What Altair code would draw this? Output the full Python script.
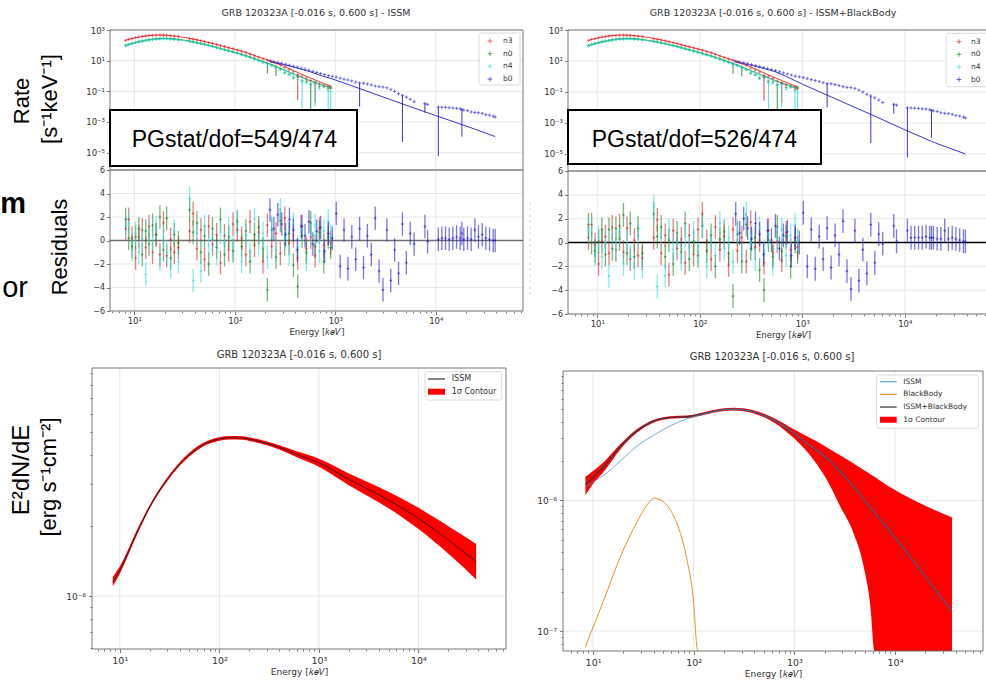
import altair as alt
import pandas as pd

# ---------------- data ----------------
DETS = ["n3", "n0", "n4", "b0"]
DET_COLORS = ["#e4262a", "#1c8a1c", "#2fe0e0", "#1f1fd0"]

NAI_E = [8.2, 8.8, 9.5, 10.3, 11.1, 12, 13, 14, 15.2, 16.5,
         18, 19.5, 21, 23, 25, 27.5, 35.5, 38.5, 42, 46,
         50, 55, 60, 66, 72, 79, 87, 96, 106, 117,
         129, 142, 157, 173, 191, 211, 233, 257, 284, 314,
         347, 383, 423, 467, 516, 570, 630, 696, 769, 850,
         900]
N3_RATE = [210, 245, 280, 320, 350, 385, 410, 440, 455, 470,
           468, 462, 450, 430, 400, 372, 280, 255, 228, 200,
           178, 152, 132, 112, 96, 82, 70, 60, 50, 41,
           34, 27, 21, 17, 13.5, 11, 9.0, 7.0, 5.2, 3.5,
           2.6, 1.9, 1.2, 1.0, 0.75, 0.5, 0.35, 0.3, 0.2, 0.22,
           0.16]
N0_RATE = [100, 118, 135, 155, 175, 195, 215, 235, 250, 265,
           275, 285, 282, 270, 255, 238, 185, 168, 150, 132,
           117, 100, 86, 73, 62, 53, 44, 37, 31, 26,
           21, 17, 13.5, 10.5, 8.3, 6.6, 5.2, 3.9, 2.8, 1.6,
           1.3, 0.75, 0.9, 0.5, 0.45, 0.3, 0.4, 0.2, 0.25, 0.15,
           0.2]
N4_RATE = [90, 110, 128, 148, 168, 188, 208, 225, 240, 255,
           262, 268, 265, 255, 242, 225, 178, 160, 143, 126,
           111, 96, 82, 70, 60, 50, 42, 35, 29, 24,
           19.5, 16, 12.5, 9.8, 7.8, 6.0, 4.7, 3.5, 2.6, 1.8,
           1.2, 0.9, 0.6, 0.4, 0.35, 0.25, 0.3, 0.15, 0.2, 0.12,
           0.1]
BGO_E = [224, 245, 268, 293, 320, 350, 383, 419, 458, 500,
         547, 598, 654, 715, 782, 855, 935, 1022, 1118, 1222,
         1336, 1461, 1597, 1746, 1909, 2087, 2282, 2495, 2728, 2983,
         3261, 3565, 3898, 4262, 4660, 5095, 5570, 6090, 7800, 8300,
         10600, 11500, 12500, 13600, 14800, 16100, 17500, 18200, 19000, 20700,
         22500, 24500, 26600, 29000, 31500, 34300, 37300, 39000]
B0_RATE = [9.5, 8.5, 7.6, 6.6, 5.8, 5.0, 4.3, 3.8, 3.2, 2.8,
           2.4, 2.0, 1.7, 1.45, 1.25, 1.05, 0.95, 0.85, 0.72, 0.62,
           0.55, 0.48, 0.40, 0.35, 0.34, 0.30, 0.26, 0.22, 0.20, 0.19,
           0.17, 0.13, 0.10, 0.07, 0.055, 0.042, 0.03, 0.021, 0.016, 0.014,
           0.0095, 0.0092, 0.009, 0.0085, 0.0082, 0.0078, 0.0072, 0.0065, 0.006, 0.0055,
           0.0045, 0.0042, 0.004, 0.0036, 0.003, 0.0028, 0.0024, 0.0021]

# fitted count-rate models
NAI_MODEL_E = [8.2, 9, 10, 11, 12.5, 14, 16, 18, 20, 23,
               27.5, 35, 42, 50, 60, 72, 87, 106, 129, 157,
               191, 233, 284, 347, 423, 516, 630, 769, 900]
N3_MODEL = [215, 255, 300, 340, 395, 435, 462, 470, 462, 435,
            380, 290, 228, 176, 134, 97, 70, 50, 34, 21.5,
            13.8, 9.0, 5.4, 3.1, 1.7, 0.95, 0.55, 0.32, 0.22]
N0_MODEL = [98, 120, 145, 170, 200, 232, 260, 278, 283, 272,
            245, 192, 150, 117, 87, 63, 45, 31.5, 21.5, 14,
            8.8, 5.5, 3.2, 1.85, 1.05, 0.62, 0.38, 0.24, 0.17]
N4_MODEL = [92, 112, 137, 160, 190, 220, 245, 262, 266, 255,
            228, 180, 143, 111, 82, 60, 42.5, 29.5, 20, 13,
            8.2, 5.1, 3.0, 1.75, 1.0, 0.6, 0.36, 0.23, 0.16]
BGO_MODEL_E = [224, 300, 400, 550, 700, 1000, 2000, 5000, 10000, 20000, 39000]
B0_MODEL_ISSM = [8.5, 5.8, 3.6, 2.0, 1.15, 0.55, 0.11, 0.0128, 0.0026, 5.5e-4, 1.12e-4]
B0_MODEL_ISSMBB = [8.5, 5.8, 3.6, 2.0, 1.0, 0.32, 0.042, 0.0029, 3.6e-4, 5e-5, 1e-5]

# long downward error bars in the count panels
DOWN_DET = ["n3", "n3", "n4", "n4", "n4", "n4", "n0", "n0", "n0", "b0", "b0", "b0", "b0", "b0"]
DOWN_E = [423, 630, 467, 630, 850, 900, 570, 211, 257, 1746, 4660, 10600, 18200, 7800]
DOWN_V = [1.2, 0.35, 0.4, 0.3, 0.12, 0.1, 0.3, 6.6, 3.9, 0.35, 0.055, 0.0095, 0.0065, 0.016]
DOWN_LO = [0.027, 0.02, 0.008, 0.01, 0.006, 0.004, 0.0048, 1.5, 1.0, 0.01, 5e-5, 6e-6, 1.1e-4, 0.004]

# residuals (sigma) - ISSM fit
N3_RES_L = [1.0, 1.8, 0.2, -1.5, 0.3, 0.9, -0.6, 1.2, -1.0, 0.5,
            -1.2, 1.5, -1.3, 0.1, -1.0, -0.6, 0.8, 2.3, -0.7, 0.9,
            -1.6, 1.2, -0.3, 0.5, -1.9, 0.4, -0.8, 1.4, 0.9, 0.2,
            -1.2, 1.6, -0.4, 0.7, -1.8, 1.3, -0.5, 0.6, -1.1, 1.9,
            -0.2, 0.4, -1.5, 1.2, -0.7, 0.3, -1.3, 1.0, -0.4, 0.6,
            -0.2]
N0_RES_L = [1.8, 0.2, -0.5, 0.3, 1.0, -1.2, 0.8, -0.3, 1.3, 0.5,
            2.0, -0.8, 1.9, -1.5, 0.5, -0.2, 2.6, 0.7, 1.5, -1.0,
            0.4, -2.0, 1.0, -0.6, 1.8, -1.2, 0.3, -0.9, 1.6, -0.5,
            0.8, -1.8, 0.5, 1.1, -0.7, -4.2, 0.9, -1.4, 1.7, -0.3,
            0.6, -2.1, -3.9, 0.4, -1.0, 1.5, -0.5, 0.7, -1.8, 0.3,
            -0.6]
N4_RES_L = [1.2, 1.5, -0.8, 0.6, -1.0, 0.2, -2.9, 0.9, -0.4, 1.1,
            -1.6, 0.3, -1.0, -2.2, 0.8, -1.8, 3.6, -3.4, 0.6, -2.6,
            1.2, -0.4, 0.1, -1.1, 0.7, -0.2, 1.0, -0.6, 1.5, -1.8,
            0.4, -0.9, 1.8, -0.3, 0.6, -1.4, 1.1, -0.8, 2.6, 0.2,
            -1.2, 1.4, -0.5, 0.9, -1.6, 0.5, 1.3, -0.9, 0.8, 1.7,
            0.4]
B0_RES_L = [2.6, 1.0, 2.2, 1.4, 0.5, 1.8, 0.9, -0.8, 1.2, 0.4,
            1.6, -0.3, 0.8, 1.1, -0.9, 0.6, 0.2, 2.3, -2.2, 0.9,
            -2.4, 0.3, -1.6, 1.0, -2.3, 0.4, -1.2, 1.9, -2.6, -4.2,
            0.9, -3.4, -0.8, -2.8, 1.4, -1.9, 0.6, -0.3, 1.2, -0.1,
            0.1, 0.2, 0.2, 0.1, 0.2, 0.3, 0.2, 0.6, 0.1, 0.2,
            0.1, 0.9, 0.3, 0.5, 0.2, 0.1, 0.0, 0.0]
# residuals (sigma) - ISSM+BlackBody fit
N3_RES_R = [0.4, 1.5, -0.2, -1.8, 0.1, 0.5, -0.9, 1.3, -0.6, 1.4,
            -0.8, 1.2, -1.4, 0.2, -1.1, -1.3, 0.4, 1.9, -0.9, 0.6,
            -2.7, 1.0, -0.5, 0.3, -1.7, 0.6, -1.0, 1.1, 2.4, 0.1,
            -1.4, 1.3, -0.6, 0.5, -1.9, 1.1, -0.7, 0.4, -1.6, 1.7,
            -0.4, 0.2, -1.7, 1.0, -0.9, 0.1, -1.5, 0.8, -0.6, 0.4,
            -0.4]
N0_RES_R = [1.5, 0.0, -0.7, 0.1, 1.1, -1.0, 1.1, -0.5, 1.2, 0.3,
            2.3, -0.9, 1.6, -1.2, 1.2, -0.9, 2.4, 0.5, 1.3, -1.2,
            0.2, -1.8, 0.8, -0.8, 1.6, -1.4, 0.1, -1.1, 1.4, -0.7,
            0.6, -2.0, 0.3, 0.9, -0.9, -4.5, 0.7, -1.6, 1.5, -0.5,
            0.4, -2.3, -4.0, 0.2, -1.2, 1.3, -0.7, 0.5, -2.0, 0.1,
            -0.8]
N4_RES_R = [1.0, 1.2, -1.0, 0.4, -1.2, 0.0, -2.8, 0.7, -0.6, 0.9,
            -1.8, 0.1, -1.2, -2.1, 0.6, -2.0, 3.0, -3.7, 0.4, -2.8,
            1.0, -0.6, -0.1, -1.3, 0.5, -0.4, 0.8, -0.8, 1.3, -2.0,
            0.2, -1.1, 1.6, -0.5, 0.4, -1.6, 0.9, -1.0, 2.4, 0.0,
            -1.4, 1.2, -0.7, 0.7, -1.8, 0.3, 1.1, -1.1, 0.6, 1.5,
            0.2]
B0_RES_R = [2.4, 0.8, 2.0, 1.2, 0.3, 1.6, 0.7, -1.0, 1.0, 0.2,
            1.4, -0.5, 0.6, 0.9, -1.1, 0.4, 0.0, 2.5, -2.0, 1.1,
            -2.2, 0.5, -1.4, 1.2, -2.1, 0.6, -1.0, 1.8, -2.4, -3.9,
            1.0, -3.2, -0.6, -2.6, 1.5, -1.7, 0.7, -0.1, 1.4, 0.1,
            1.0, 0.4, 0.4, 0.4, 0.4, 0.5, 0.4, 0.4, 0.4, 0.3,
            0.3, 1.0, 0.3, 0.4, 0.3, 0.2, 0.1, 0.1]

# nuFnu spectra, bottom-left (ISSM)
BL_E = [8.5, 10, 15, 20, 30, 40, 60, 80, 100, 130, 170,
        220, 300, 400, 600, 1000, 2000, 5000, 10000, 20000, 38000]
BL_ISSM = [1.152e-6, 1.291e-6, 1.883e-6, 2.409e-6, 3.152e-6, 3.665e-6, 4.277e-6, 4.565e-6, 4.688e-6, 4.749e-6,
           4.734e-6, 4.642e-6, 4.491e-6, 4.318e-6, 4.031e-6, 3.713e-6, 3.152e-6, 2.572e-6, 2.147e-6, 1.735e-6,
           1.402e-6]
BL_HI = [1.204e-6, 1.336e-6, 1.930e-6, 2.452e-6, 3.209e-6, 3.731e-6, 4.354e-6, 4.647e-6, 4.772e-6, 4.834e-6,
         4.819e-6, 4.726e-6, 4.572e-6, 4.413e-6, 4.152e-6, 3.862e-6, 3.341e-6, 2.791e-6, 2.383e-6, 1.987e-6,
         1.668e-6]
BL_LO = [1.102e-6, 1.247e-6, 1.837e-6, 2.366e-6, 3.096e-6, 3.600e-6, 4.201e-6, 4.484e-6, 4.605e-6, 4.665e-6,
         4.650e-6, 4.560e-6, 4.412e-6, 4.225e-6, 3.914e-6, 3.570e-6, 2.974e-6, 2.370e-6, 1.934e-6, 1.515e-6,
         1.178e-6]

# nuFnu spectra, bottom-right (ISSM + BlackBody)
BR_E = [8.4, 10, 12.8, 18.7, 27.4, 40.1, 58.7, 85.9, 126, 184,
        250, 394, 623, 1000, 1556, 2113, 2865, 3883, 4887, 5690,
        6240, 7000, 10000, 17860, 36800]
BR_TOTAL = [1.33e-6, 1.50e-6, 1.81e-6, 2.58e-6, 3.41e-6, 4.05e-6, 4.32e-6, 4.37e-6, 4.63e-6, 4.91e-6,
            5.0e-6, 4.77e-6, 4.12e-6, 3.26e-6, 2.5e-6, 2.1e-6, 1.66e-6, 1.27e-6, 1.02e-6, 8.84e-7,
            8.1e-7, 7.3e-7, 5.21e-7, 2.93e-7, 1.41e-7]
BR_ISSM = [1.27e-6, 1.38e-6, 1.56e-6, 2.01e-6, 2.61e-6, 3.16e-6, 3.73e-6, 4.22e-6, 4.58e-6, 4.90e-6,
           5.0e-6, 4.77e-6, 4.12e-6, 3.26e-6, 2.5e-6, 2.1e-6, 1.66e-6, 1.27e-6, 1.02e-6, 8.84e-7,
           8.1e-7, 7.3e-7, 5.21e-7, 2.93e-7, 1.41e-7]
BR_HI = [1.52e-6, 1.68e-6, 1.97e-6, 2.70e-6, 3.52e-6, 4.15e-6, 4.42e-6, 4.47e-6, 4.74e-6, 5.03e-6,
         5.12e-6, 4.90e-6, 4.28e-6, 3.49e-6, 2.91e-6, 2.545e-6, 2.21e-6, 1.92e-6, 1.71e-6, 1.59e-6,
         1.52e-6, 1.43e-6, 1.2e-6, 9.48e-7, 7.41e-7]
BR_LO = [1.10e-6, 1.34e-6, 1.66e-6, 2.47e-6, 3.31e-6, 3.95e-6, 4.22e-6, 4.27e-6, 4.52e-6, 4.79e-6,
         4.88e-6, 4.64e-6, 3.96e-6, 2.98e-6, 2.04e-6, 1.43e-6, 8.95e-7, 5.59e-7, 3.1e-7, 1.54e-7,
         7e-8, 1e-8, 1e-8, 1e-8, 1e-8]
BB_E = [8.4, 12.8, 18.7, 27.4, 34.3, 40.1, 46.7, 58.7, 73.8, 85.9, 100, 108, 111]
BB_FLUX = [7.6e-8, 1.73e-7, 3.71e-7, 6.87e-7, 9.2e-7, 1.04e-6, 1.01e-6, 8.43e-7, 5.59e-7, 3.49e-7, 1.63e-7, 7.4e-8, 5e-8]

# axis tick values
X_MAJOR = [10, 100, 1000, 10000]
X_MINOR = [6, 7, 8, 9, 20, 30, 40, 50, 60, 70, 80, 90, 200, 300, 400, 500, 600, 700, 800, 900,
           2000, 3000, 4000, 5000, 6000, 7000, 8000, 9000, 20000, 30000, 40000, 50000, 60000, 70000]
RATE_TICKS = [1e3, 1e1, 1e-1, 1e-3, 1e-5]
RES_TICKS = [-6, -4, -2, 0, 2, 4, 6]

# ---------------- tables ----------------
ONE = pd.DataFrame({"k": [0]})


def det_table(e, v, det, col):
    return pd.DataFrame({"E": e, col: v, "det": det})


rate_df = pd.concat([det_table(NAI_E, N3_RATE, "n3", "rate"), det_table(NAI_E, N0_RATE, "n0", "rate"),
                     det_table(NAI_E, N4_RATE, "n4", "rate"), det_table(BGO_E, B0_RATE, "b0", "rate")])
down_df = pd.DataFrame({"E": DOWN_E, "v": DOWN_V, "lo": DOWN_LO, "det": DOWN_DET})


def model_df(bgo_model):
    return pd.concat([det_table(NAI_MODEL_E, N3_MODEL, "n3", "rate"), det_table(NAI_MODEL_E, N0_MODEL, "n0", "rate"),
                      det_table(NAI_MODEL_E, N4_MODEL, "n4", "rate"), det_table(BGO_MODEL_E, bgo_model, "b0", "rate")])


def res_df(r3, r0, r4, rb):
    return pd.concat([det_table(NAI_E, r3, "n3", "r"), det_table(NAI_E, r0, "n0", "r"),
                      det_table(NAI_E, r4, "n4", "r"), det_table(BGO_E, rb, "b0", "r")])


# ---------------- helpers ----------------
W, H = 986, 682
SUP = str.maketrans("-0123456789", "\u207b\u2070\u00b9\u00b2\u00b3\u2074\u2075\u2076\u2077\u2078\u2079")
PLUS = "M-1,0L1,0M0,-1L0,1"
FONT = "DejaVu Sans"
SLIDE_FONT = "Liberation Sans"
ENERGY_TITLE = "Energy [\U0001d458\U0001d452\U0001d449]"
GRID = "#e2e2e2"
SPINE = "#6a6a6a"
COLOR = alt.Color("det:N", scale=alt.Scale(domain=DETS, range=DET_COLORS), legend=None)


def pow_expr(exps):
    s = ""
    for e in exps:
        s += "abs(log(datum.value)/LN10 - (%d)) < 0.01 ? '10%s' : " % (e, str(e).translate(SUP))
    return s + "''"


def axis(**kw):
    base = dict(labelFont=FONT, labelColor="#333", tickColor="#555", tickWidth=0.8, tickSize=3.5,
                domain=False, grid=False, titleFont=FONT, titleFontWeight="normal", titleColor="#333",
                labelPadding=2, title=None)
    base.update(kw)
    return alt.Axis(**base)


def logscale(dom, rng):
    return alt.Scale(type="log", domain=dom, range=rng, nice=False, clamp=True)


def txt(x, y, s, size, font=SLIDE_FONT, angle=0, align="center", baseline="middle", weight="normal",
        color="black"):
    return alt.Chart(ONE).mark_text(text=s, fontSize=size, font=font, angle=angle, align=align,
                                    baseline=baseline, fontWeight=weight, color=color).encode(
        x=alt.value(x), y=alt.value(y))


def rect(x1, x2, y1, y2, **kw):
    return alt.Chart(ONE).mark_rect(**kw).encode(x=alt.value(x1), x2=alt.value(x2),
                                                 y=alt.value(y1), y2=alt.value(y2))


def frame(x1, x2, y1, y2):
    return rect(x1, x2, y1, y2, fill="white", fillOpacity=0, stroke=SPINE, strokeWidth=0.9)


def hline(x1, x2, y, **kw):
    return alt.Chart(ONE).mark_rule(**kw).encode(x=alt.value(x1), x2=alt.value(x2), y=alt.value(y))


def xgrid(ticks, xs, y1, y2, ax=None):
    return alt.Chart(pd.DataFrame({"t": ticks})).mark_rule(color=GRID, strokeWidth=0.8).encode(
        x=alt.X("t:Q", scale=xs, axis=ax), y=alt.value(y1), y2=alt.value(y2))


def ygrid(ticks, ys, x1, x2, ax=None):
    return alt.Chart(pd.DataFrame({"t": ticks})).mark_rule(color=GRID, strokeWidth=0.8).encode(
        y=alt.Y("t:Q", scale=ys, axis=ax), x=alt.value(x1), x2=alt.value(x2))


def xminor(xs, ax):
    return alt.Chart(pd.DataFrame({"t": X_MINOR})).mark_rule(opacity=0).encode(x=alt.X("t:Q", scale=xs, axis=ax))


def yminor(ticks, ys, ax):
    return alt.Chart(pd.DataFrame({"t": ticks})).mark_rule(opacity=0).encode(y=alt.Y("t:Q", scale=ys, axis=ax))


def legend(box, entries, sym_x, text_x, y0, dy, size):
    layers = [rect(box[0], box[1], box[2], box[3], fill="white", fillOpacity=0.85, stroke="#d0d0d0",
                   strokeWidth=0.8, cornerRadius=2)]
    for i, (label, kind, color) in enumerate(entries):
        y = y0 + i * dy
        if kind == "plus":
            layers.append(alt.Chart(ONE).mark_point(shape=PLUS, filled=False, size=22, strokeWidth=1,
                                                    color=color).encode(x=alt.value((sym_x[0] + sym_x[1]) / 2),
                                                                        y=alt.value(y)))
        elif kind == "line":
            layers.append(hline(sym_x[0], sym_x[1], y, color=color, strokeWidth=1.2))
        else:
            layers.append(rect(sym_x[0], sym_x[1], y - 3, y + 3, color=color))
        layers.append(txt(text_x, y, label, size, font=FONT, align="left", color="#333"))
    return layers


# ---------------- top panels ----------------
def rate_panel(x0, x1, y0, y1, xdom, ydom, bgo_model, title, title_x, stat, box, legend_spec):
    xs = logscale(xdom, [x0, x1])
    ys = logscale(ydom, [y1, y0])
    ya = axis(values=RATE_TICKS, labelExpr=pow_expr([3, 1, -1, -3, -5]), labelFontSize=8.5, orient="left",
              offset=-x0)
    layers = [xgrid(X_MAJOR, xs, y0, y1), ygrid(RATE_TICKS, ys, x0, x1, ya)]
    layers.append(alt.Chart(model_df(bgo_model)).mark_line(strokeWidth=0.9).encode(
        x=alt.X("E:Q", scale=xs, axis=None), y=alt.Y("rate:Q", scale=ys, axis=None), color=COLOR,
        detail="det:N"))
    layers.append(alt.Chart(down_df).mark_rule(strokeWidth=0.9).encode(
        x=alt.X("E:Q", scale=xs, axis=None), y=alt.Y("lo:Q", scale=ys, axis=None), y2="v:Q", color=COLOR))
    layers.append(alt.Chart(rate_df).mark_point(shape=PLUS, filled=False, size=10, strokeWidth=0.9).encode(
        x=alt.X("E:Q", scale=xs, axis=None), y=alt.Y("rate:Q", scale=ys, axis=None), color=COLOR))
    layers.append(frame(x0, x1, y0, y1))
    layers.append(rect(box[0], box[1], box[2], box[3], fill="white", stroke="black", strokeWidth=2))
    layers.append(txt(box[4], box[5], stat, 23, align="left", baseline="alphabetic"))
    layers += legend(*legend_spec)
    layers.append(txt(title_x, y0 - 17, title, 9.5, font=FONT, color="#333"))
    return layers


def res_panel(x0, x1, y0, y1, xdom, data, zero_color):
    xs = logscale(xdom, [x0, x1])
    ys = alt.Scale(type="linear", domain=[-6, 6], range=[y1, y0], nice=False, zero=False, clamp=True)
    xa = axis(values=X_MAJOR, labelExpr=pow_expr([1, 2, 3, 4]), labelFontSize=8.5, title=ENERGY_TITLE,
              titleFontSize=8.5, titlePadding=2, orient="bottom", offset=y1 - H)
    xm = axis(values=X_MINOR, labels=False, tickSize=1.8, orient="bottom", offset=y1 - H)
    ya = axis(values=RES_TICKS, labelExpr="datum.value < 0 ? '\u2212' + abs(datum.value) : '' + datum.value",
              labelFontSize=8, orient="left", offset=-x0)
    layers = [xgrid(X_MAJOR, xs, y0, y1, xa), xminor(xs, xm), ygrid(RES_TICKS, ys, x0, x1, ya)]
    layers.append(alt.Chart(ONE).mark_rule(color=zero_color, strokeWidth=1.4).encode(
        y=alt.Y(datum=0, scale=ys, axis=None), x=alt.value(x0), x2=alt.value(x1)))
    layers.append(alt.Chart(data).transform_calculate(lo="datum.r - 1", hi="datum.r + 1").mark_rule(
        strokeWidth=1.3, opacity=0.6).encode(
        x=alt.X("E:Q", scale=xs, axis=None), y=alt.Y("lo:Q", scale=ys, axis=None), y2="hi:Q", color=COLOR))
    layers.append(alt.Chart(data).mark_point(shape=PLUS, filled=False, size=7, strokeWidth=0.9).encode(
        x=alt.X("E:Q", scale=xs, axis=None), y=alt.Y("r:Q", scale=ys, axis=None), color=COLOR))
    layers.append(frame(x0, x1, y0, y1))
    return layers


TOP_ENTRIES = [("n3", "plus", DET_COLORS[0]), ("n0", "plus", DET_COLORS[1]),
               ("n4", "plus", DET_COLORS[2]), ("b0", "plus", DET_COLORS[3])]

TL_X = [5.73, 73800]
TR_X = [5.18, 81100]

layers = []
layers += rate_panel(110, 523, 30, 170, TL_X, [7.4e-7, 1000], B0_MODEL_ISSM,
                     "GRB 120323A [-0.016 s, 0.600 s] - ISSM", 316, "PGstat/dof=549/474",
                     (110, 357, 110, 166, 131.7, 146.7),
                     ((479, 520, 33, 85), TOP_ENTRIES, (486, 494), 503, 41, 12.7, 7.5))
layers += res_panel(110, 523, 170, 311, TL_X, res_df(N3_RES_L, N0_RES_L, N4_RES_L, B0_RES_L), "#707070")
layers += rate_panel(568, 998, 30, 171, TR_X, [7.9e-7, 1000], B0_MODEL_ISSMBB,
                     "GRB 120323A [-0.016 s, 0.600 s] - ISSM+BlackBody", 773, "PGstat/dof=526/474",
                     (568, 821, 110, 164, 591.7, 146.7),
                     ((946, 1000, 33.3, 86.7), TOP_ENTRIES, (955, 963), 971, 41.7, 12.6, 7.5))
layers += res_panel(568, 998, 171, 314, TR_X, res_df(N3_RES_R, N0_RES_R, N4_RES_R, B0_RES_R), "black")

# slide annotations on the left edge
layers += [txt(22, 101, "Rate", 22, angle=270),
           txt(50, 99, "[s\u207b\u00b9keV\u207b\u00b9]", 22, angle=270),
           txt(60, 247, "Residuals", 22, angle=270),
           txt(26, 213, "m", 29, align="right", baseline="alphabetic", weight="bold"),
           txt(28, 297, "or", 29, align="right", baseline="alphabetic"),
           txt(22, 470, "E\u00b2dN/dE", 24, angle=270),
           txt(49, 477, "[erg s\u207b\u00b9cm\u207b\u00b2]", 22, angle=270),
           alt.Chart(ONE).mark_rule(color="#c8c8c8", strokeWidth=0.8, strokeDash=[3, 3]).encode(
               x=alt.value(530), y=alt.value(202), y2=alt.value(298))]


# ---------------- bottom panels ----------------
def nufnu_panel(x0, x1, y0, y1, xdom, ydom, ymajor, ymajor_exps, yminor_ticks, band_df, lines, legend_spec,
                title_x, title_y):
    xs = logscale(xdom, [x0, x1])
    ys = logscale(ydom, [y1, y0])
    xa = axis(values=X_MAJOR, labelExpr=pow_expr([1, 2, 3, 4]), labelFontSize=9.5, title=ENERGY_TITLE,
              titleFontSize=9, titlePadding=2, labelPadding=3, orient="bottom", offset=y1 - H)
    xm = axis(values=X_MINOR, labels=False, tickSize=2, orient="bottom", offset=y1 - H)
    ya = axis(values=ymajor, labelExpr=pow_expr(ymajor_exps), labelFontSize=9, labelPadding=3, orient="left",
              offset=-x0)
    ym = axis(values=yminor_ticks, labels=False, tickSize=2, orient="left", offset=-x0)
    out = [xgrid(X_MAJOR, xs, y0, y1, xa), xminor(xs, xm), ygrid(ymajor, ys, x0, x1, ya),
           yminor(yminor_ticks, ys, ym)]
    out.append(alt.Chart(band_df).mark_area(color="#ff0000", interpolate="monotone").encode(
        x=alt.X("E:Q", scale=xs, axis=None), y=alt.Y("lo:Q", scale=ys, axis=None), y2="hi:Q"))
    for df, color, sw, op in lines:
        out.append(alt.Chart(df).mark_line(color=color, strokeWidth=sw, opacity=op, interpolate="monotone").encode(
            x=alt.X("E:Q", scale=xs, axis=None), y=alt.Y("f:Q", scale=ys, axis=None)))
    out.append(frame(x0, x1, y0, y1))
    out += legend(*legend_spec)
    out.append(txt(title_x, title_y, "GRB 120323A [-0.016 s, 0.600 s]", 10, font=FONT, color="#333"))
    return out


bl_band = pd.DataFrame({"E": BL_E, "lo": BL_LO, "hi": BL_HI})
bl_line = pd.DataFrame({"E": BL_E, "f": BL_ISSM})
layers += nufnu_panel(
    92, 506, 368, 649, [5.26, 75700], [5.94e-7, 9.43e-6], [1e-6], [-6],
    [6e-7, 7e-7, 8e-7, 9e-7, 2e-6, 3e-6, 4e-6, 5e-6, 6e-6, 7e-6, 8e-6, 9e-6],
    bl_band, [(bl_line, "#222222", 0.9, 1.0)],
    ((425, 501.7, 371.7, 400), [("ISSM", "line", "#333333"), ("1\u03c3 Contour", "rect", "#ff0000")],
     (428, 445), 451.7, 379, 12.7, 8),
    299, 355)

br_band = pd.DataFrame({"E": BR_E, "lo": BR_LO, "hi": BR_HI})
br_total = pd.DataFrame({"E": BR_E, "f": BR_TOTAL})
br_issm = pd.DataFrame({"E": BR_E, "f": BR_ISSM})
br_bb = pd.DataFrame({"E": BB_E, "f": BB_FLUX})
layers += nufnu_panel(
    563, 983, 371, 651, [5.03, 74800], [7.03e-8, 9.8e-6], [1e-6, 1e-7], [-6, -7],
    [8e-8, 9e-8, 2e-7, 3e-7, 4e-7, 5e-7, 6e-7, 7e-7, 8e-7, 9e-7,
     2e-6, 3e-6, 4e-6, 5e-6, 6e-6, 7e-6, 8e-6, 9e-6],
    br_band, [(br_total, "#3a3a48", 1.3, 1.0), (br_issm, "#3d8fcc", 0.9, 0.8), (br_bb, "#e8902a", 1.0, 1.0)],
    ((876.7, 978.3, 375, 428.3), [("ISSM", "line", "#5aa6d6"), ("BlackBody", "line", "#e8902a"),
                                  ("ISSM+BlackBody", "line", "#333333"), ("1\u03c3 Contour", "rect", "#ff0000")],
     (880, 896.7), 903.3, 381.7, 12.67, 7.5),
    772, 357)

chart = alt.layer(*layers).resolve_scale(x="independent", y="independent").resolve_axis(
    x="independent", y="independent").properties(
    width=W, height=H,
    autosize=alt.AutoSizeParams(type="none"),
    padding={"left": 0, "top": 0, "right": 0, "bottom": 0},
    background="white",
).configure_view(stroke=None)

chart.save("out.html", embed_options={"renderer": "svg", "actions": False})
